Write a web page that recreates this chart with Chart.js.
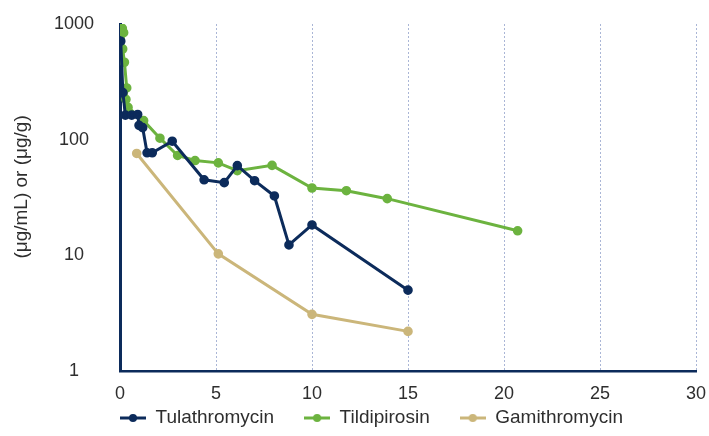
<!DOCTYPE html>
<html>
<head>
<meta charset="utf-8">
<script src="https://cdn.jsdelivr.net/npm/chart.js@4/dist/chart.umd.min.js"></script>
<style>
  html, body { margin: 0; padding: 0; background: #fff; }
  #wrap { width: 709px; height: 436px; }
</style>
</head>
<body>
<div id="wrap"><canvas id="chart" width="709" height="436"></canvas></div>
<script>
// concentration over time, log scale

const seriesNames = ["Tulathromycin", "Tildipirosin", "Gamithromycin"];

const tulaX = [0.04, 0.15, 0.28, 0.61, 0.92, 0.99, 1.18, 1.41, 1.68, 2.72, 4.38, 5.43, 6.11, 7.01, 8.04, 8.8, 10.0, 15.0];
const tulaY = [710, 255, 163, 163, 165, 133, 127, 77, 77, 97, 45, 42.5, 59.6, 44.2, 32.6, 12.3, 18.3, 5.0];

const tildX = [0.12, 0.19, 0.14, 0.23, 0.35, 0.31, 0.42, 1.23, 2.08, 3.0, 3.91, 5.12, 6.11, 7.92, 10.0, 11.79, 13.92, 20.71];
const tildY = [918, 842, 608, 467, 280, 223, 190, 146, 103, 73, 66, 63, 54, 60, 38.2, 36.2, 30.9, 16.3];

const gamiX = [0.87, 5.12, 10.0, 15.0];
const gamiY = [76, 10.3, 3.09, 2.2];

const xTicks = [0, 5, 10, 15, 20, 25, 30];
const yTicks = [1, 10, 100, 1000];

const colors = ["#0c2b5b", "#6cb33f", "#cbb67a"];
// leading spaces nudge the rotated title up a little, like the original
const yTitle = "    (μg/mL) or (μg/g)";

function toPoints(xs, ys) {
    return xs.map((x, i) => ({ x: x, y: ys[i] }));
}

// legend marker: short line with a dot in the middle
function legendMarker(color) {
    const c = document.createElement("canvas");
    c.width = 26;
    c.height = 10;
    const g = c.getContext("2d");
    g.strokeStyle = color;
    g.lineWidth = 3;
    g.beginPath();
    g.moveTo(0, 5);
    g.lineTo(26, 5);
    g.stroke();
    g.fillStyle = color;
    g.beginPath();
    g.arc(13, 5, 4, 0, Math.PI * 2);
    g.fill();
    return c;
}

const font = "'Liberation Sans', Arial, sans-serif";
const textColor = "#2e2e2e";
const legendPad = 30;

const allData = [toPoints(tulaX, tulaY), toPoints(tildX, tildY), toPoints(gamiX, gamiY)];
const markers = colors.map(c => legendMarker(c));

const datasets = seriesNames.map((name, i) => ({
    label: name,
    data: allData[i],
    borderColor: colors[i],
    backgroundColor: colors[i],
    borderWidth: 3,
    pointRadius: 3.3,
    pointHoverRadius: 3.3,
    pointStyle: "circle",
    tension: 0
}));

// put the legend row where the original has it
const legendPlacer = {
    id: "legendPlacer",
    afterLayout(chart) {
        const lg = chart.legend;
        if (!lg) return;
        const w = lg.right - lg.left;
        lg.left = 120 - legendPad;
        lg.right = lg.left + w;
        lg.top = 418 - legendPad - 9.5;
    }
};

new Chart(document.getElementById("chart"), {
    type: "line",
    data: { datasets: datasets },
    plugins: [legendPlacer],
    options: {
        responsive: false,
        animation: false,
        layout: { padding: { left: 0, right: 13, top: 24, bottom: 0 } },
        scales: {
            x: {
                type: "linear",
                min: 0,
                max: 30,
                afterBuildTicks: s => { s.ticks = xTicks.map(v => ({ value: v })); },
                afterFit: s => { s.height = 40; s.paddingRight = 0; s.paddingLeft = 0; },
                ticks: {
                    color: textColor,
                    font: { family: font, size: 18 },
                    padding: 12
                },
                grid: {
                    drawTicks: false,
                    lineWidth: 1,
                    color: ctx => (ctx.tick && ctx.tick.value === 0) ? "rgba(0,0,0,0)" : "#aab6d6"
                },
                border: { color: "#0c2b5b", width: 2.5, dash: [2, 2] }
            },
            y: {
                type: "logarithmic",
                min: 1,
                max: 1000,
                afterBuildTicks: s => { s.ticks = yTicks.map(v => ({ value: v })); },
                afterFit: s => { s.width = 120; s.paddingTop = 0; s.paddingBottom = 0; },
                ticks: {
                    color: textColor,
                    font: { family: font, size: 18 },
                    crossAlign: "center",
                    padding: 26,
                    callback: v => String(v)
                },
                grid: { display: false, drawTicks: false },
                border: { color: "#0c2b5b", width: 3 },
                title: {
                    display: true,
                    text: yTitle,
                    color: textColor,
                    font: { family: font, size: 19 },
                    padding: { top: 10, bottom: 0 }
                }
            }
        },
        plugins: {
            legend: {
                position: "bottom",
                align: "start",
                maxHeight: 25,
                labels: {
                    color: textColor,
                    font: { family: font, size: 19 },
                    usePointStyle: true,
                    pointStyleWidth: 26,
                    boxWidth: 26,
                    padding: legendPad,
                    generateLabels: chart => chart.data.datasets.map((d, i) => ({
                        text: d.label,
                        pointStyle: markers[i],
                        fillStyle: colors[i],
                        strokeStyle: colors[i],
                        lineWidth: 0,
                        fontColor: textColor,
                        datasetIndex: i,
                        hidden: false
                    }))
                }
            },
            tooltip: { enabled: false }
        }
    }
});
</script>
</body>
</html>
